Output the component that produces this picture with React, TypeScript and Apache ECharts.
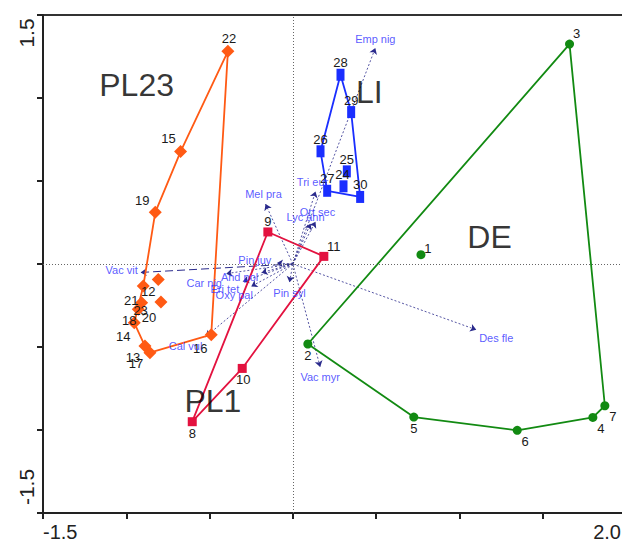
import { useEffect, useRef } from 'react';
import * as echarts from 'echarts';

// ---- samples (ordination scores) ----
const pl23Ids = ['22', '15', '19', '12', '21', '23', '20', '18', '14', '13', '17', '16'];
const pl23X = [-0.39, -0.674, -0.826, -0.808, -0.898, -0.908, -0.792, -0.928, -0.952, -0.888, -0.858, -0.49];
const pl23Y = [1.281, 0.677, 0.311, -0.093, -0.133, -0.233, -0.229, -0.273, -0.354, -0.494, -0.534, -0.426];
const pl23Hull = ['22', '15', '19', '21', '14', '13', '17', '16', '22'];

const pl1Ids = ['9', '11', '10', '8'];
const pl1X = [-0.15, 0.186, -0.304, -0.604];
const pl1Y = [0.193, 0.046, -0.629, -0.95];
const pl1Hull = ['9', '11', '10', '8', '9'];

const liIds = ['28', '29', '26', '25', '24', '27', '30'];
const liX = [0.286, 0.35, 0.166, 0.324, 0.304, 0.206, 0.404];
const liY = [1.14, 0.915, 0.679, 0.558, 0.468, 0.441, 0.404];
const liHull = ['28', '29', '30', '27', '26', '28'];

const deIds = ['1', '2', '3', '4', '5', '6', '7'];
const deX = [0.769, 0.09, 1.661, 1.801, 0.726, 1.347, 1.873];
const deY = [0.056, -0.482, 1.325, -0.924, -0.922, -1.002, -0.854];
const deHull = ['2', '3', '7', '4', '6', '5', '2'];

// ---- species arrows ----
const speciesNames = ['Emp nig', 'Mel pra', 'Tri eur', 'Ort sec', 'Lyc ann', 'Pin juv', 'Vac vit', 'Car nig', 'And pol', 'Eri tet', 'Oxy pal', 'Pin syl', 'Vac myr', 'Des fle', 'Cal vul'];
const speciesX = [0.495, -0.164, 0.136, 0.136, 0.106, -0.096, -0.914, -0.4, -0.188, -0.3, -0.25, -0.02, 0.164, 1.101, -0.524];
const speciesY = [1.301, 0.361, 0.437, 0.255, 0.243, 0.006, -0.051, -0.058, -0.052, -0.105, -0.135, -0.11, -0.62, -0.396, -0.438];

// ---- group labels ----
const groupNames = ['PL23', 'PL1', 'LI', 'DE'];
const groupLabelX = [-0.938, -0.48, 0.459, 1.181];
const groupLabelY = [1.08, -0.828, 1.038, 0.164];

// ---- tick labels ----
const xTickValues = [-1.5, 2.0];
const xTickLabels = ['-1.5', '2.0'];
const yTickLabels = ['1.5', '-1.5'];

// ---- styles (label offsets in px) ----
const sampleLabelOffset: Record<string, [number, number]> = {
  '22': [1, -13], '15': [-12, -13], '19': [-13, -12], '12': [-10, 12], '21': [-12, 14],
  '23': [-1, 8], '20': [-12, 15], '18': [-9, 11], '14': [-11, 14], '13': [-12, 11],
  '17': [-14, 11], '16': [-11, 14],
  '9': [0, -10], '11': [10, -10], '10': [1, 11], '8': [0, 12],
  '28': [0, -12], '29': [0, -12], '26': [0, -12], '25': [0, -12], '24': [-1, -12], '27': [0, -12], '30': [0, -12],
  '1': [7, -6], '2': [0, 11], '3': [7, -11], '4': [8, 11], '5': [0, 11], '6': [8, 11], '7': [8, 11],
};
const speciesLabelOffset: Record<string, [number, number]> = {
  'Emp nig': [0, -9], 'Mel pra': [-2, -10], 'Tri eur': [-3, -9], 'Ort sec': [2, -10], 'Lyc ann': [-5, -7],
  'Pin juv': [-22, -3], 'Vac vit': [-19, -2], 'Car nig': [-22, 9], 'And pol': [-22, 4], 'Eri tet': [-18, 8],
  'Oxy pal': [-17, 9], 'Pin syl': [0, 11], 'Vac myr': [0, 10], 'Des fle': [20, 8], 'Cal vul': [-20, 9],
};

const FONT = 'Arial, "Liberation Sans", sans-serif';

const groups = [
  { ids: pl23Ids, xs: pl23X, ys: pl23Y, hull: pl23Hull, color: '#ff5a14', symbol: 'diamond', size: [13, 13] },
  { ids: pl1Ids, xs: pl1X, ys: pl1Y, hull: pl1Hull, color: '#e3123f', symbol: 'rect', size: [9, 9] },
  { ids: liIds, xs: liX, ys: liY, hull: liHull, color: '#1a2eff', symbol: 'rect', size: [8, 12] },
  { ids: deIds, xs: deX, ys: deY, hull: deHull, color: '#128a12', symbol: 'circle', size: [9, 9] },
];

export default function App() {
  const ref = useRef<HTMLDivElement>(null);
  useEffect(() => {
    document.body.style.margin = '0';
    if (!ref.current) return;
    const chart = echarts.init(ref.current, undefined, { renderer: 'svg' });

    const series: any[] = [];
    // zero lines
    series.push({
      type: 'scatter',
      data: [[0, 0]],
      symbolSize: 0,
      silent: true,
      markLine: {
        silent: true,
        symbol: 'none',
        label: { show: false },
        lineStyle: { type: [1, 2], color: '#666', width: 1 },
        data: [{ xAxis: 0 }, { yAxis: 0 }],
      },
      z: 1,
    });
    // species arrows
    series.push({
      type: 'lines',
      coordinateSystem: 'cartesian2d',
      silent: true,
      symbol: ['none', 'arrow'],
      symbolSize: 6,
      lineStyle: { color: '#2a2a8c', width: 0.8, type: [2, 2], opacity: 1 },
      data: speciesNames.map((n, i) => ({
        coords: [[0, 0], [speciesX[i], speciesY[i]]],
        lineStyle: n === 'Vac vit' ? { type: [8, 4], width: 1 } : undefined,
      })),
      z: 2,
    });
    series.push({
      type: 'scatter',
      silent: true,
      symbolSize: 1,
      itemStyle: { color: 'rgba(0,0,0,0)' },
      data: speciesNames.map((n, i) => ({
        name: n,
        value: [speciesX[i], speciesY[i]],
        label: { offset: speciesLabelOffset[n] },
      })),
      label: {
        show: true,
        position: 'inside',
        formatter: '{b}',
        color: '#2f2fff',
        fontSize: 11,
        fontFamily: FONT,
      },
      z: 6,
    });
    groups.forEach((g) => {
      series.push({
        type: 'line',
        silent: true,
        showSymbol: false,
        symbol: 'none',
        lineStyle: { color: g.color, width: 1.8 },
        data: g.hull.map((id) => {
          const k = g.ids.indexOf(id);
          return [g.xs[k], g.ys[k]];
        }),
        z: 3,
      });
      series.push({
        type: 'scatter',
        silent: true,
        symbol: g.symbol,
        symbolSize: g.size,
        itemStyle: { color: g.color, opacity: 1 },
        data: g.ids.map((id, k) => ({
          name: id,
          value: [g.xs[k], g.ys[k]],
          label: { offset: sampleLabelOffset[id] || [0, -12] },
        })),
        label: {
          show: true,
          position: 'inside',
          formatter: '{b}',
          color: '#1a1a1a',
          fontSize: 13,
          fontFamily: FONT,
        },
        z: 5,
      });
    });
    // group labels
    series.push({
      type: 'scatter',
      silent: true,
      symbolSize: 1,
      itemStyle: { color: 'rgba(0,0,0,0)' },
      data: groupNames.map((n, i) => ({ name: n, value: [groupLabelX[i], groupLabelY[i]] })),
      label: {
        show: true,
        position: 'inside',
        formatter: '{b}',
        color: '#000',
        fontSize: 32,
        fontFamily: FONT,
      },
      z: 7,
    });

    chart.setOption({
      animation: false,
      backgroundColor: '#fff',
      grid: {
        left: 43,
        top: 15,
        width: 583,
        height: 498,
        show: true,
        borderColor: '#333',
        borderWidth: 2,
        containLabel: false,
        outerBoundsMode: 'none',
      },
      xAxis: {
        type: 'value',
        min: -1.5,
        max: 2.0,
        interval: 0.5,
        splitLine: { show: false },
        axisLine: { show: true, onZero: false, lineStyle: { color: '#222', width: 2 } },
        axisTick: { show: true, inside: false, length: 6, lineStyle: { color: '#222', width: 2 } },
        axisLabel: {
          show: true,
          margin: 9,
          fontSize: 20,
          color: '#222',
          fontFamily: FONT,
          padding: [0, 5, 0, 0],
          showMinLabel: true,
          showMaxLabel: true,
          alignMinLabel: 'left',
          alignMaxLabel: 'right',
          formatter: (v: number) => {
            const k = xTickValues.findIndex((t) => Math.abs(t - v) < 1e-9);
            return k >= 0 ? xTickLabels[k] : '';
          },
        },
      },
      yAxis: {
        type: 'value',
        min: -1.5,
        max: 1.5,
        interval: 0.5,
        splitLine: { show: false },
        axisLine: { show: true, onZero: false, lineStyle: { color: '#222', width: 2 } },
        axisTick: { show: true, inside: false, length: 6, lineStyle: { color: '#222', width: 2 } },
        axisLabel: { show: false },
      },
      graphic: [
        {
          type: 'text',
          x: 26,
          y: 33,
          rotation: Math.PI / 2,
          style: { text: yTickLabels[0], fontSize: 21, fill: '#222', fontFamily: FONT, align: 'center', verticalAlign: 'middle' },
        },
        {
          type: 'text',
          x: 26,
          y: 487,
          rotation: Math.PI / 2,
          style: { text: yTickLabels[1], fontSize: 21, fill: '#222', fontFamily: FONT, align: 'center', verticalAlign: 'middle' },
        },
      ],
      series,
    });
    return () => chart.dispose();
  }, []);
  return <div ref={ref} style={{ width: 622, height: 546 }} />;
}
